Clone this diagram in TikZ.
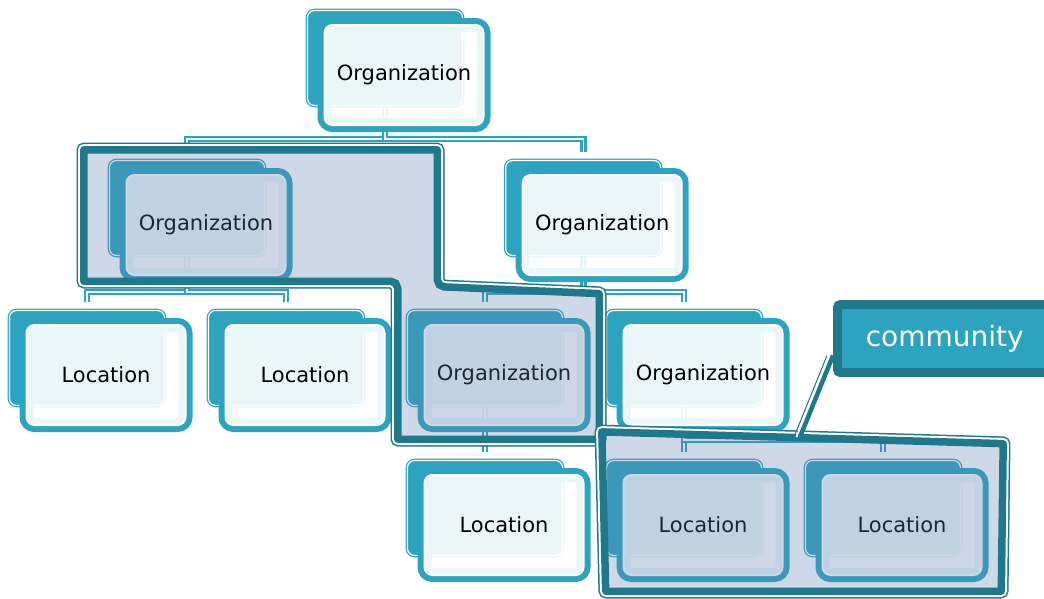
\documentclass[tikz,border=0pt]{standalone}
\usepackage{fontspec}
\setmainfont{DejaVu Sans}
\usetikzlibrary{positioning, backgrounds}
\definecolor{boxteal}{RGB}{44,164,191}
\definecolor{commdark}{RGB}{31,120,140}
\definecolor{commshade}{RGB}{95,125,172}
\tikzset{
backbox/.style={
  rectangle,
  rounded corners=7pt,
  minimum width=155pt, minimum height=95pt, inner sep=0pt,
  fill=boxteal, draw=white, line width=1.2pt,
  preaction={draw=boxteal, line width=3.6pt}
  },
frontbox/.style={
  rectangle,
  rounded corners=8pt,
  minimum width=159pt, minimum height=100pt, inner sep=0pt,
  fill=white, fill opacity=0.9, text opacity=1,
  draw=white, line width=2pt,
  preaction={draw=boxteal, fill=none, line width=14pt},
  font=\fontsize{21pt}{25pt}\selectfont
  },
commbox/.style={
  rectangle,
  rounded corners=3pt,
  minimum width=214.5pt, minimum height=68pt,
  fill=boxteal, draw=commdark, line width=9pt,
  text=white, font=\fontsize{28pt}{32pt}\selectfont
  },
line/.style={draw=boxteal, line width=2.6pt, double=white, double distance=1.4pt, shorten >=8pt},
commfill/.style={fill=commshade, fill opacity=0.3}
}

\begin{document}
\begin{tikzpicture}[x=1pt, y=-1pt, node distance=53.8pt and 42.8pt]
\useasboundingbox (0,0) rectangle (1044,598);

% shadow boxes
\node[backbox]	(orgtop-back)		at (385,58)						{};
\node[backbox]	(orgleft-back)		at (187,208)					{};
\node[backbox]	(orgright-back)	[right=240pt of orgleft-back]	{};
\node[backbox]	(locA-back)		at (87,358)						{};
\node[backbox]	(locB-back)		[right=of locA-back]			{};
\node[backbox]	(orgmid-back)		[right=of locB-back]			{};
\node[backbox]	(orgside-back)		[right=of orgmid-back]			{};
\node[backbox]	(locC-back)		[below=of orgmid-back]			{};
\node[backbox]	(locD-back)		[right=of locC-back]			{};
\node[backbox]	(locE-back)		[right=of locD-back]			{};

% boxes
\node[frontbox]	(orgtop)		at ([shift={(19,17)}]orgtop-back.center)	{Organization};
\node[frontbox]	(orgleft)		at ([shift={(19,17)}]orgleft-back.center)	{Organization};
\node[frontbox]	(orgright)		at ([shift={(19,17)}]orgright-back.center)	{Organization};
\node[frontbox]	(locA)		at ([shift={(19,17)}]locA-back.center)		{Location};
\node[frontbox]	(locB)		at ([shift={(19,17)}]locB-back.center)		{Location};
\node[frontbox]	(orgmid)		at ([shift={(19,17)}]orgmid-back.center)	{Organization};
\node[frontbox]	(orgside)		at ([shift={(19,17)}]orgside-back.center)	{Organization};
\node[frontbox]	(locC)		at ([shift={(19,17)}]locC-back.center)		{Location};
\node[frontbox]	(locD)		at ([shift={(19,17)}]locD-back.center)		{Location};
\node[frontbox]	(locE)		at ([shift={(19,17)}]locE-back.center)		{Location};

\begin{scope}[on background layer]
\draw[line]	(orgtop-back.south)	-- ++(0,33) -| (orgleft-back.north);
\draw[line]	(orgtop-back.south)	-- ++(0,33) -| (orgright-back.north);
\draw[line]	(orgleft-back.south)	-- ++(0,36) -| (locA-back.north);
\draw[line]	(orgleft-back.south)	-- ++(0,36) -| (locB-back.north);
\draw[line]	(orgright-back.south)	-- ++(0,36) -| (orgmid-back.north);
\draw[line]	(orgright-back.south)	-- ++(0,36) -| (orgside-back.north);
\draw[line]	(orgmid-back.south)	-- (locC-back.north);
\draw[line]	(orgside-back.south)	-- ++(0,34) -| (locD-back.north);
\draw[line]	(orgside-back.south)	-- ++(0,34) -| (locE-back.north);
\end{scope}

% communities
\def\commA{(80,146) -- (441,146) -- (441,283) -- (603,290) -- (603,443) -- (394,443) -- (394,285) -- (80,285) -- cycle}
\def\commB{(598,428) -- (1007,440) -- (1005,595) -- (602,595) -- cycle}
\begin{scope}[rounded corners=4pt]
\fill[commfill] \commA;
\fill[commfill] \commB;
\foreach \comm in {\commA, \commB} {
  \draw[commdark, line width=7pt] \comm;
  \draw[white, line width=4pt] \comm;
  \begin{scope}
  \clip \comm;
  \draw[commdark, line width=15pt] \comm;
  \end{scope}
}
\end{scope}

\node[commbox]	(community)	at (944.75,338.5)	{community};
\coordinate	(commtip)	at (800,437);
\draw[commdark, line width=1pt, transform canvas={xshift=-6pt}]	([yshift=-17pt]community.west) -- (commtip);
\draw[white, line width=2pt, transform canvas={xshift=-3.5pt}]	([yshift=-17pt]community.west) -- (commtip);
\draw[commdark, line width=4.5pt]	([yshift=-17pt]community.west) -- (commtip);
\end{tikzpicture}
\end{document}
